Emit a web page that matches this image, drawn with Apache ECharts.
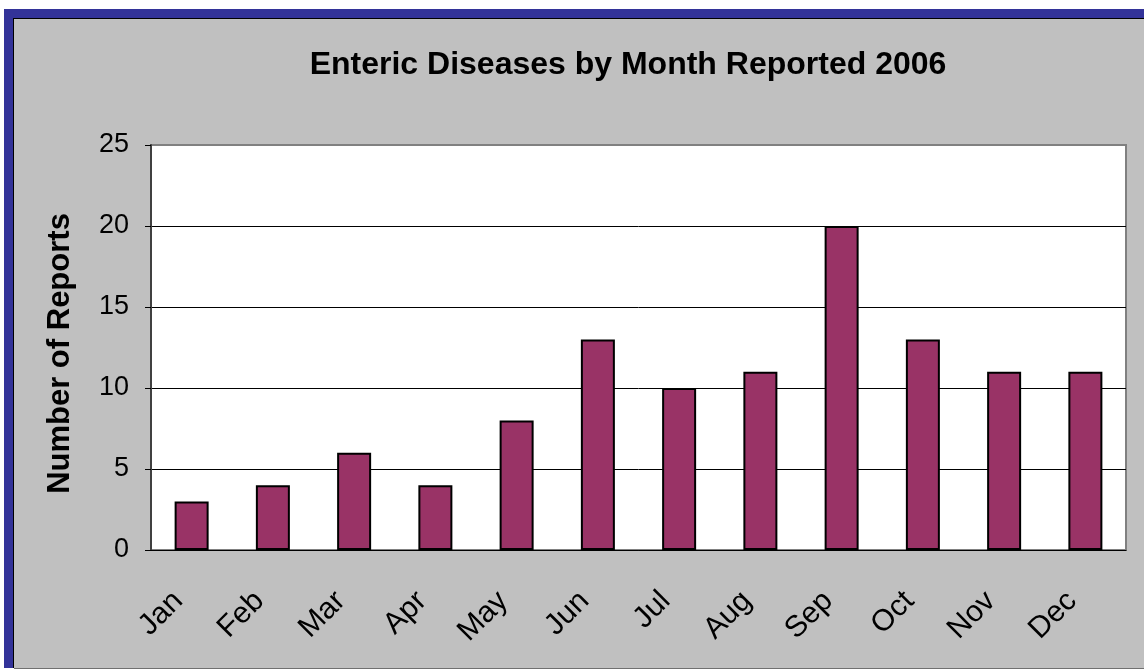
<!DOCTYPE html>
<html>
<head>
<meta charset="utf-8">
<title>Enteric Diseases by Month Reported 2006</title>
<script src="https://cdn.jsdelivr.net/npm/echarts@6/dist/echarts.min.js"></script>
<style>
  html, body { margin: 0; padding: 0; background: #fff; overflow: hidden; }
  /* 蓝色外框 + 黑色细线 */
  .frame {
    position: absolute; left: 4px; top: 9px;
    width: 1131px; height: 650px;
    border-left: 9px solid #333399; border-top: 9px solid #333399;
    background: #000;
  }
  #main {
    position: absolute; left: 1px; top: 1px;
    width: 1130px; height: 649px;
    background: #c0c0c0;
    border-bottom: 1px solid #707070;
  }
</style>
</head>
<body>
<div class="frame"><div id="main"></div></div>
<script>
// 数据
var months = ["Jan", "Feb", "Mar", "Apr", "May", "Jun", "Jul", "Aug", "Sep", "Oct", "Nov", "Dec"];
var reports = [3, 4, 6, 4, 8, 13, 10, 11, 20, 13, 11, 11];
var yTicks = [0, 5, 10, 15, 20, 25];

;(function() {
  var myChart = echarts.init(document.getElementById("main"));
  var font = "Liberation Sans, Arial, sans-serif";

  var option = {
    animation: false,
    title: {
      text: "Enteric Diseases by Month Reported 2006",
      left: 609,
      top: 25,
      textAlign: "center",
      textStyle: { fontFamily: font, fontSize: 32, fontWeight: "bold", color: "#000" }
    },
    grid: {
      left: 137,
      top: 126,
      width: 975,
      height: 405,
      show: true,
      backgroundColor: "#fff",
      borderColor: "#808080",
      borderWidth: 2
    },
    xAxis: {
      type: "category",
      data: months,
      axisLine: { lineStyle: { color: "#000", width: 1 } },
      axisTick: { length: 9, lineStyle: { color: "#555" } },
      axisLabel: {
        rotate: 45,
        margin: 33,
        padding: [0, 19, 0, 0],
        fontFamily: font,
        fontSize: 30,
        color: "#000"
      }
    },
    yAxis: {
      type: "value",
      min: yTicks[0],
      max: yTicks[yTicks.length - 1],
      interval: 5,
      name: "Number of Reports",
      nameLocation: "middle",
      nameGap: 75,
      nameTextStyle: {
        fontFamily: font, fontSize: 31, fontWeight: "bold", color: "#000",
        padding: [0, 12, 0, 0]
      },
      axisLine: { show: true, lineStyle: { color: "#404040", width: 2 } },
      axisTick: { show: true, length: 6, lineStyle: { color: "#000" } },
      axisLabel: { margin: 22, fontFamily: font, fontSize: 27, color: "#000" },
      splitLine: { show: true, showMaxLine: false, lineStyle: { color: "#000", width: 1 } }
    },
    series: [
      {
        type: "bar",
        data: reports,
        barWidth: 34,
        itemStyle: { color: "#993366", borderColor: "#000", borderWidth: 2 }
      }
    ]
  };

  myChart.setOption(option);
  window.addEventListener("resize", function() {
    myChart.resize();
  });
})();
</script>
</body>
</html>
